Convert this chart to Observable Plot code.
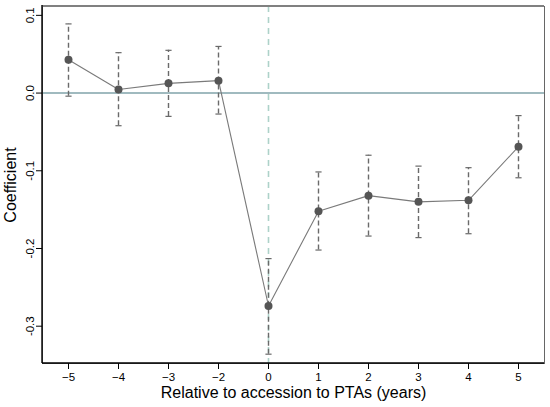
<!DOCTYPE html>
<html>
<head>
<meta charset="utf-8">
<script src="https://cdn.jsdelivr.net/npm/d3@7"></script>
<script src="https://cdn.jsdelivr.net/npm/@observablehq/plot@0.6"></script>
<style>
  html, body { margin: 0; padding: 0; background: #fff; }
  #chart { width: 550px; height: 407px; }
</style>
</head>
<body>
<div id="chart"></div>
<script>
const years = [-5, -4, -3, -2, 0, 1, 2, 3, 4, 5];
const coef  = [0.043, 0.0045, 0.0125, 0.016, -0.274, -0.152, -0.132, -0.140, -0.138, -0.069];
const upper = [0.089, 0.052, 0.055, 0.060, -0.213, -0.1015, -0.080, -0.094, -0.096, -0.029];
const lower = [-0.004, -0.042, -0.030, -0.027, -0.336, -0.202, -0.184, -0.186, -0.181, -0.109];
const yTicks = [-0.3, -0.2, -0.1, 0, 0.1];
const yDomain = [-0.348, 0.1114];

const data = years.map((x, i) => ({x, y: coef[i], hi: upper[i], lo: lower[i]}));

// horizontal cap symbol for error bars
const capSymbol = {
  draw(context, size) {
    const w = Math.sqrt(size) * 0.62;
    context.moveTo(-w, 0);
    context.lineTo(w, 0);
  }
};

const chart = Plot.plot({
  width: 550,
  height: 407,
  marginLeft: 42,
  marginRight: 6,
  marginTop: 6,
  marginBottom: 44,
  style: {fontFamily: "Liberation Sans, Arial, sans-serif", background: "#fff"},
  x: {type: "point", domain: years, padding: 0.5},
  y: {domain: yDomain},
  marks: [
    Plot.ruleY([0], {stroke: "#80a3aa", strokeWidth: 1.6}),
    Plot.ruleX([0], {stroke: "#add2c9", strokeWidth: 1.6, strokeDasharray: "6,5"}),
    Plot.ruleX(data, {x: "x", y1: "lo", y2: "hi", stroke: "#6a6a6a", strokeWidth: 1.4, strokeDasharray: "5,3"}),
    Plot.dot(data, {x: "x", y: "hi", symbol: capSymbol, r: 2.8, stroke: "#6a6a6a", fill: "none", strokeWidth: 1.2}),
    Plot.dot(data, {x: "x", y: "lo", symbol: capSymbol, r: 2.8, stroke: "#6a6a6a", fill: "none", strokeWidth: 1.2}),
    Plot.line(data, {x: "x", y: "y", stroke: "#7a7a7a", strokeWidth: 1.1}),
    Plot.dot(data, {x: "x", y: "y", r: 4, fill: "#555", stroke: "none"}),
    Plot.frame({stroke: "#666", strokeWidth: 1}),
    Plot.axisX({tickSize: 6, tickPadding: 3, fontSize: 11.5, color: "#000",
      tickFormat: d => d < 0 ? "\u2212" + Math.abs(d) : String(d),
      label: "Relative to accession to PTAs (years)", labelAnchor: "center", labelOffset: 34, labelArrow: "none"}),
    Plot.axisY({ticks: yTicks, tickSize: 6, tickPadding: 3, fontSize: 11.5, tickRotate: -90, color: "#000",
      tickFormat: d => d3.format(".1f")(d).replace("\u2212", "-"),
      label: "Coefficient", labelAnchor: "center", labelOffset: 38, labelArrow: "none"})
  ]
});
document.getElementById("chart").appendChild(chart);
// enlarge axis titles
chart.querySelectorAll("g[aria-label='x-axis label'] text, g[aria-label='y-axis label'] text").forEach(t => {
  t.setAttribute("font-size", "16");
  t.style.fontSize = "16px";
});
// darker left and bottom axis lines, grey top line (as in the reference)
const svgNS = "http://www.w3.org/2000/svg";
const [x0, x1] = [42, 550 - 6];
const [y0, y1] = [6, 407 - 44];
function addLine(a, b, c, d, col, w) {
  const l = document.createElementNS(svgNS, "line");
  l.setAttribute("x1", a); l.setAttribute("y1", b);
  l.setAttribute("x2", c); l.setAttribute("y2", d);
  l.setAttribute("stroke", col); l.setAttribute("stroke-width", w);
  chart.appendChild(l);
}
addLine(x0, y0, x1, y0, "#808080", 2);
addLine(x0, y0 - 1, x0, y1, "#000", 1.4);
addLine(x0, y1, x1, y1, "#000", 1.4);
</script>
</body>
</html>
